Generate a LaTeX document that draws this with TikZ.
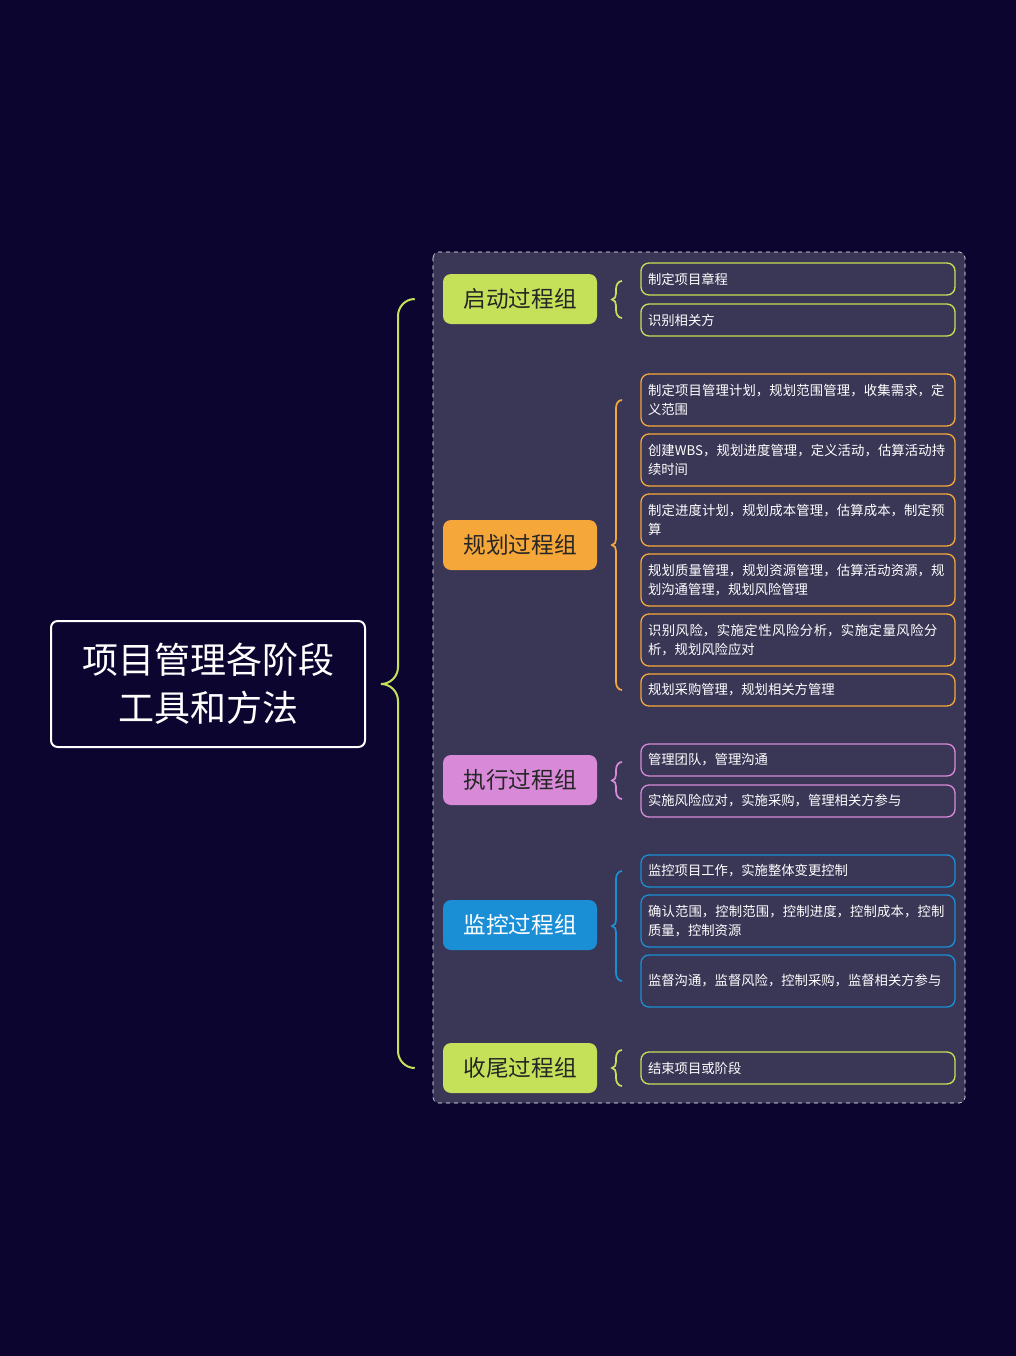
\documentclass[tikz,border=0pt]{standalone}
\usepackage{fontspec}
\setmainfont{Noto Sans CJK SC}
\XeTeXlinebreaklocale "zh"
\XeTeXlinebreakskip=0pt plus 1pt
\usetikzlibrary{positioning,calc}
\definecolor{bgnavy}{HTML}{0B0530}
\definecolor{panel}{HTML}{3A3656}
\definecolor{cgreen}{HTML}{C5E15A}
\definecolor{corange}{HTML}{F5A73A}
\definecolor{cpink}{HTML}{D88AD8}
\definecolor{cblue}{HTML}{1B8FD6}
\newcommand{\bracket}[4]{% colour, tip x, top y, bottom y
  \draw[#1, line width=1.3pt] ($(#2+10,#3)$) to[out=180,in=90] ($(#2+4,#3+8)$) -- ($(#2+4,{(#3+#4)/2-6})$)
    to[out=-90,in=0] ($(#2,{(#3+#4)/2})$) to[out=0,in=90] ($(#2+4,{(#3+#4)/2+6})$) -- ($(#2+4,#4-8)$)
    to[out=-90,in=180] ($(#2+10,#4)$);}
\begin{document}
\begin{tikzpicture}[
        x=0.75pt, y=-0.75pt,
        root/.style={draw=white, line width=1.5pt, rounded corners=5pt, fill=bgnavy, text=white,
            minimum width=235.5pt, minimum height=94.5pt, align=center, font=\fontsize{27}{36}\selectfont},
        grp/.style={rounded corners=6pt, fill=#1, minimum width=115.5pt, minimum height=37.5pt,
            font=\fontsize{17}{20}\selectfont, text=black!85},
        leaf/.style={draw=#1, line width=1pt, rounded corners=6pt, fill=panel, text=white,
            minimum width=235.5pt, text width=225pt, align=left, inner sep=4pt,
            font=\fontsize{10}{14}\selectfont},
        short/.style={minimum height=24pt},
        tall/.style={minimum height=39pt},
    ]
    \fill[bgnavy] (0,0) rectangle (1016,1356);
    \draw[white!80, dashed, rounded corners=4pt, fill=panel] (433,252) rectangle (965,1103);

    \node[root] (root) at (208,684) {项目管理各阶段\\工具和方法};

    % process groups
    \node[grp=cgreen] (start) at (520,299) {启动过程组};
    \node[grp=corange] (plan) at (520,545) {规划过程组};
    \node[grp=cpink] (exec) at (520,780) {执行过程组};
    \node[grp=cblue, text=white] (ctrl) at (520,925) {监控过程组};
    \node[grp=cgreen] (close) at (520,1068) {收尾过程组};

    % leaves
    \node[leaf=cgreen, short] (s1) at (798,279) {制定项目章程};
    \node[leaf=cgreen, short] (s2) at (798,320) {识别相关方};
    \node[leaf=corange, tall] (p1) at (798,400) {制定项目管理计划，规划范围管理，收集需求，定义范围};
    \node[leaf=corange, tall] (p2) at (798,460) {创建WBS，规划进度管理，定义活动，估算活动持续时间};
    \node[leaf=corange, tall] (p3) at (798,520) {制定进度计划，规划成本管理，估算成本，制定预算};
    \node[leaf=corange, tall] (p4) at (798,580) {规划质量管理，规划资源管理，估算活动资源，规划沟通管理，规划风险管理};
    \node[leaf=corange, tall] (p5) at (798,640) {识别风险，实施定性风险分析，实施定量风险分析，规划风险应对};
    \node[leaf=corange, short] (p6) at (798,690) {规划采购管理，规划相关方管理};
    \node[leaf=cpink, short] (e1) at (798,760) {管理团队，管理沟通};
    \node[leaf=cpink, short] (e2) at (798,801) {实施风险应对，实施采购，管理相关方参与};
    \node[leaf=cblue, short] (c1) at (798,871) {监控项目工作，实施整体变更控制};
    \node[leaf=cblue, tall] (c2) at (798,921) {确认范围，控制范围，控制进度，控制成本，控制质量，控制资源};
    \node[leaf=cblue, tall] (c3) at (798,981) {监督沟通，监督风险，控制采购，监督相关方参与};
    \node[leaf=cgreen, short] (f1) at (798,1068) {结束项目或阶段};

    % brackets
    \path (root.east) ++(15,0) coordinate (rt)
        (start.west) ++(-28,0) coordinate (ta) (close.west) ++(-28,0) coordinate (tb);
    \draw[cgreen, line width=1.5pt] (ta) to[out=180,in=90] (398,316) -- (398,667)
        to[out=-90,in=0] (rt) to[out=0,in=90] (398,701) -- (398,1051) to[out=-90,in=180] (tb);
    \bracket{cgreen}{612}{281}{318}
    \bracket{corange}{612}{400}{690}
    \bracket{cpink}{612}{762}{799}
    \bracket{cblue}{612}{871}{981}
    \bracket{cgreen}{612}{1050}{1086}
\end{tikzpicture}
\end{document}
